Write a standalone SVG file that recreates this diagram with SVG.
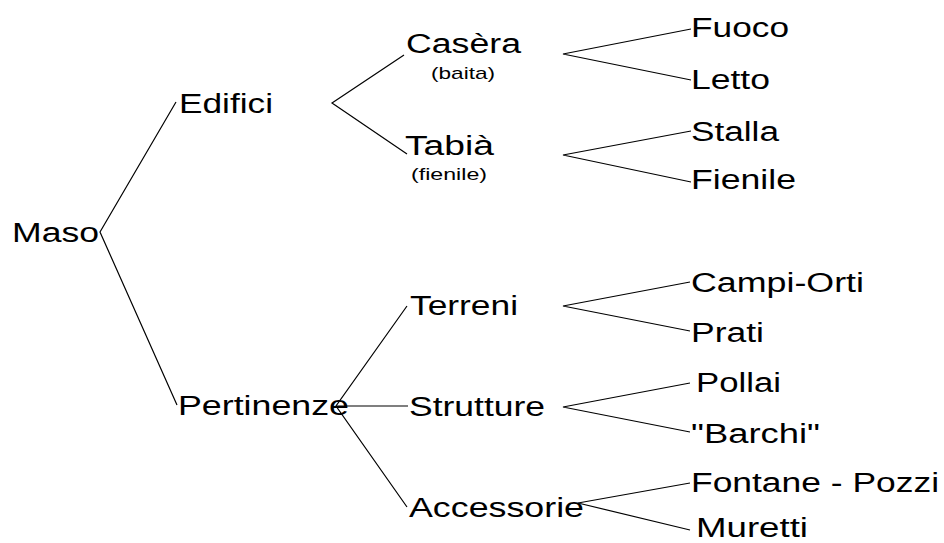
<svg xmlns="http://www.w3.org/2000/svg" width="944" height="543" viewBox="0 0 944 543">
  <style>
    .bg { fill: #ffffff; }
    .lbl { font-family: "Liberation Sans", Arial, sans-serif; font-size: 27px; fill: #000000; }
    .sub { font-family: "Liberation Sans", Arial, sans-serif; font-size: 17px; fill: #000000; text-anchor: middle; }
    .edge { stroke: #000000; stroke-width: 1.2; fill: none; }
  </style>
  <rect class="bg" x="0" y="0" width="944" height="543"/>

  <!-- tree branches -->
  <g id="connectors">
    <polyline class="edge" points="176,102 100,232 177,405"/>
    <polyline class="edge" points="404,55 332,103 407,154"/>
    <polyline class="edge" points="407,306 336,406 407,507"/>
    <line class="edge" x1="336" y1="406" x2="408" y2="406"/>
    <polyline class="edge" points="691,29 563,54 691,80"/>
    <polyline class="edge" points="691,131 563,155 691,182"/>
    <polyline class="edge" points="690,282 563,306 690,331"/>
    <polyline class="edge" points="690,383 563,407 690,432"/>
    <polyline class="edge" points="690,483 578,503 690,530"/>
  </g>

  <!-- root -->
  <g id="maso"><text class="lbl" x="12" y="242" textLength="87" lengthAdjust="spacingAndGlyphs">Maso</text></g>

  <!-- first level -->
  <g id="edifici"><text class="lbl" x="179" y="113" textLength="94" lengthAdjust="spacingAndGlyphs">Edifici</text></g>
  <g id="pertinenze"><text class="lbl" x="178" y="415" textLength="171" lengthAdjust="spacingAndGlyphs">Pertinenze</text></g>

  <!-- second level -->
  <g id="casera">
    <text class="lbl" x="406" y="53" textLength="115" lengthAdjust="spacingAndGlyphs">Casèra</text>
    <text class="sub" x="463" y="79" textLength="64" lengthAdjust="spacingAndGlyphs">(baita)</text>
  </g>
  <g id="tabia">
    <text class="lbl" x="405" y="155" textLength="89" lengthAdjust="spacingAndGlyphs">Tabià</text>
    <text class="sub" x="449" y="180" textLength="76" lengthAdjust="spacingAndGlyphs">(fienile)</text>
  </g>
  <g id="terreni"><text class="lbl" x="410" y="315" textLength="108" lengthAdjust="spacingAndGlyphs">Terreni</text></g>
  <g id="strutture"><text class="lbl" x="409" y="416" textLength="136" lengthAdjust="spacingAndGlyphs">Strutture</text></g>
  <g id="accessorie"><text class="lbl" x="409" y="517" textLength="175" lengthAdjust="spacingAndGlyphs">Accessorie</text></g>

  <!-- leaves -->
  <g id="fuoco"><text class="lbl" x="691" y="37" textLength="98" lengthAdjust="spacingAndGlyphs">Fuoco</text></g>
  <g id="letto"><text class="lbl" x="691" y="89" textLength="79" lengthAdjust="spacingAndGlyphs">Letto</text></g>
  <g id="stalla"><text class="lbl" x="691" y="141" textLength="88" lengthAdjust="spacingAndGlyphs">Stalla</text></g>
  <g id="fienile"><text class="lbl" x="691" y="189" textLength="105" lengthAdjust="spacingAndGlyphs">Fienile</text></g>
  <g id="campi-orti"><text class="lbl" x="691" y="292" textLength="173" lengthAdjust="spacingAndGlyphs">Campi-Orti</text></g>
  <g id="prati"><text class="lbl" x="691" y="342" textLength="73" lengthAdjust="spacingAndGlyphs">Prati</text></g>
  <g id="pollai"><text class="lbl" x="696" y="392" textLength="85" lengthAdjust="spacingAndGlyphs">Pollai</text></g>
  <g id="barchi"><text class="lbl" x="691" y="443" textLength="129" lengthAdjust="spacingAndGlyphs">"Barchi"</text></g>
  <g id="fontane-pozzi"><text class="lbl" x="691" y="492" textLength="248" lengthAdjust="spacingAndGlyphs">Fontane - Pozzi</text></g>
  <g id="muretti"><text class="lbl" x="696" y="537" textLength="112" lengthAdjust="spacingAndGlyphs">Muretti</text></g>
</svg>
